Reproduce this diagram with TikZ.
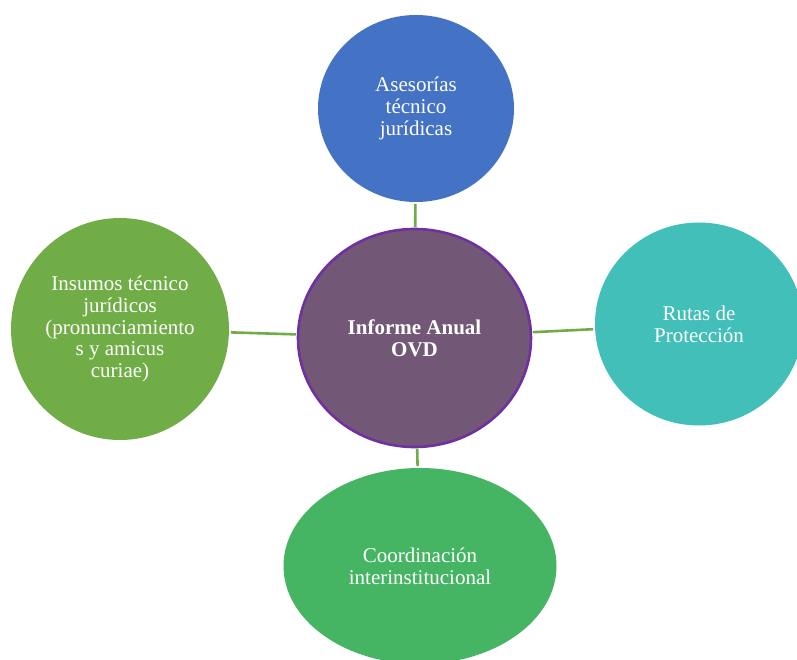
\documentclass[tikz,border=0pt]{standalone}
\usepackage{fontspec}
\setmainfont{Liberation Serif}
\usetikzlibrary{shapes.geometric}
\definecolor{cblue}{HTML}{4472C4}
\definecolor{cteal}{HTML}{43BFB9}
\definecolor{cgreen}{HTML}{70AD47}
\definecolor{cgreenb}{HTML}{46B563}
\definecolor{cpurple}{HTML}{725876}
\definecolor{cpurpleb}{HTML}{7030A0}
\tikzset{
  bubble/.style={ellipse, inner sep=0pt, outer sep=0pt, text=white, align=center,
    font=\fontsize{21}{21.8}\selectfont},
  link/.style={draw=cgreen, line width=2.6pt, shorten <=2pt, shorten >=2pt}
}
\begin{document}
\begin{tikzpicture}[x=1pt,y=-1pt]
\useasboundingbox (0,0) rectangle (797,660);
\clip (0,0) rectangle (797,660);
\fill[white] (0,0) rectangle (797,660);
\node[bubble, fill=cpurple, draw=cpurpleb, line width=2.6pt, minimum width=233pt, minimum height=218pt,
  font=\fontsize{21}{21.8}\selectfont\bfseries] (c) at (414.5,338) {Informe Anual\\OVD};
\node[bubble, fill=cblue, minimum width=196pt, minimum height=187pt] (t) at (416,108.5) {Asesorías\\técnico\\jurídicas};
\node[bubble, fill=cteal, minimum width=208pt, minimum height=203pt] (r) at (699,324) {Rutas de\\Protección};
\node[bubble, fill=cgreen, minimum width=218pt, minimum height=222pt] (l) at (120,329) {Insumos técnico\\jurídicos\\(pronunciamiento\\s y amicus\\curiae)};
\node[bubble, fill=cgreenb, minimum width=273pt, minimum height=196pt] (b) at (420,566) {Coordinación\\interinstitucional};
\draw[link] (c) -- (t);
\draw[link] (c) -- (r);
\draw[link] (c) -- (l);
\draw[link] (c) -- (b);
\end{tikzpicture}
\end{document}
